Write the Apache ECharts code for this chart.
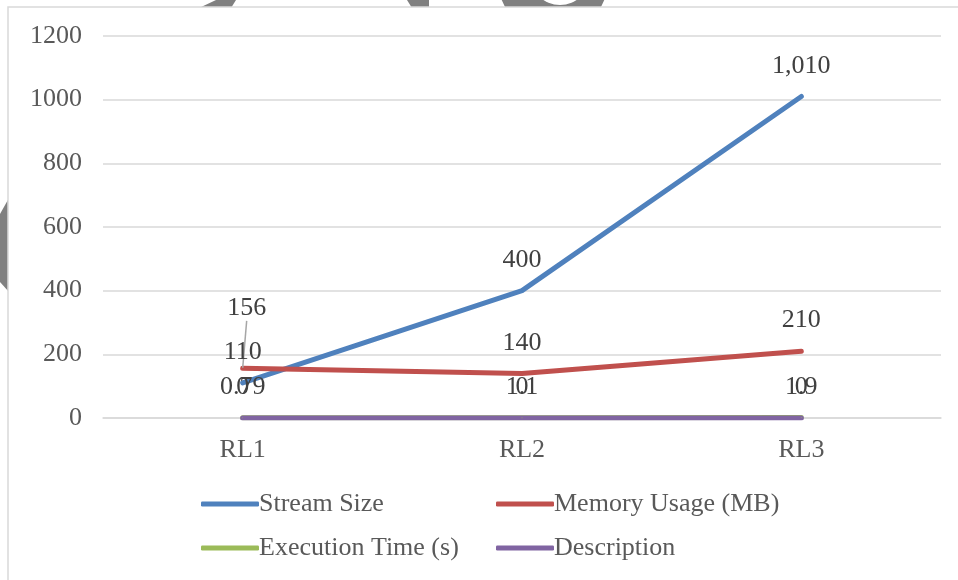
<!DOCTYPE html>
<html>
<head>
<meta charset="utf-8">
<script src="https://cdn.jsdelivr.net/npm/echarts@6/dist/echarts.min.js"></script>
<style>
  html, body { margin: 0; padding: 0; background: #ffffff; }
  #chart { width: 958px; height: 580px; }
</style>
</head>
<body>
<div id="chart"></div>
<script>
// Categories and series values
const categories = ['RL1', 'RL2', 'RL3'];
const streamSize = [110, 400, 1010];
const memoryUsage = [156, 140, 210];
const executionTime = [0.79, 1.1, 1.9];
const description = [0, 0, 0];
const yTicks = { min: 0, max: 1200, interval: 200 };

const FONT = '"Liberation Serif", "Times New Roman", serif';
const FS = 26;
const labelText = { fontFamily: FONT, fontSize: FS, color: '#404040' };

function fmt(v) {
  return Number(v).toLocaleString('en-US');
}

// leaderIndex: data point whose label is lifted and joined back by a guide line
function lineSeries(name, data, color, leaderIndex) {
  const items = data.map(function (v, i) {
    if (i === leaderIndex) {
      return { value: v, labelLine: { show: true } };
    }
    return v;
  });
  return {
    name: name,
    type: 'line',
    data: items,
    symbol: 'circle',
    symbolSize: 1,
    showSymbol: true,
    lineStyle: { width: 5, color: color, cap: 'round', join: 'round' },
    itemStyle: { color: color },
    label: Object.assign({
      show: true,
      position: 'top',
      distance: 17,
      formatter: function (p) { return fmt(p.value); }
    }, labelText),
    labelLine: { show: false, lineStyle: { color: '#a6a6a6', width: 1.5 } },
    emphasis: { disabled: true },
    animation: false
  };
}

const chart = echarts.init(document.getElementById('chart'), null, { renderer: 'canvas' });

chart.setOption({
  backgroundColor: '#ffffff',
  animation: false,
  textStyle: { fontFamily: FONT },
  graphic: [
    // grey shapes behind the chart frame
    { type: 'polygon', z: -3, shape: { points: [[199, 8], [216, 0], [236, 0], [231, 8]] }, style: { fill: '#808080' } },
    { type: 'polygon', z: -3, shape: { points: [[407, 0], [429, 0], [429, 8], [412, 8]] }, style: { fill: '#808080' } },
    { type: 'circle', z: -3, shape: { cx: 553, cy: -20, r: 55 }, style: { fill: '#808080' } },
    { type: 'circle', z: -3, shape: { cx: 560, cy: -25, r: 30 }, style: { fill: '#ffffff' } },
    { type: 'polygon', z: -3, shape: { points: [[9, 198], [9, 292], [0, 282], [0, 214]] }, style: { fill: '#808080' } },
    // chart frame
    { type: 'rect', z: -2, shape: { x: 8, y: 7, width: 970, height: 600 }, style: { fill: '#ffffff', stroke: '#d9d9d9', lineWidth: 1.5 } }
  ],
  grid: { left: 103, right: 17, top: 36, bottom: 162, containLabel: false },
  legend: [
    {
      orient: 'vertical', left: 196, top: 486, itemGap: 18,
      itemWidth: 58, itemHeight: 5, icon: 'roundRect',
      data: ['Stream Size', 'Execution Time (s)'],
      textStyle: { fontFamily: FONT, fontSize: FS, color: '#595959', padding: [0, 0, 0, -5] }
    },
    {
      orient: 'vertical', left: 491, top: 486, itemGap: 18,
      itemWidth: 58, itemHeight: 5, icon: 'roundRect',
      data: ['Memory Usage (MB)', 'Description'],
      textStyle: { fontFamily: FONT, fontSize: FS, color: '#595959', padding: [0, 0, 0, -5] }
    }
  ],
  xAxis: {
    type: 'category',
    data: categories,
    boundaryGap: true,
    axisLine: { show: true, lineStyle: { color: '#d9d9d9', width: 1.5 } },
    axisTick: { show: false },
    axisLabel: { fontFamily: FONT, fontSize: FS, color: '#595959', margin: 19 }
  },
  yAxis: {
    type: 'value',
    min: yTicks.min,
    max: yTicks.max,
    interval: yTicks.interval,
    axisLine: { show: false },
    axisTick: { show: false },
    splitLine: { lineStyle: { color: '#d9d9d9', width: 1.5 } },
    axisLabel: {
      fontFamily: FONT, fontSize: FS, color: '#595959', margin: 21,
      formatter: function (v) { return String(v); }
    }
  },
  labelLayout: function (params) {
    // lift the first memory label clear of the stream label
    if (params.seriesIndex === 1 && params.dataIndex === 0) {
      return { dx: 4, dy: -30 };
    }
    return {};
  },
  series: [
    lineSeries('Stream Size', streamSize, '#4f81bd', -1),
    lineSeries('Memory Usage (MB)', memoryUsage, '#c0504d', 0),
    lineSeries('Execution Time (s)', executionTime, '#9bbb59', -1),
    lineSeries('Description', description, '#8064a2', -1)
  ]
});
</script>
</body>
</html>
